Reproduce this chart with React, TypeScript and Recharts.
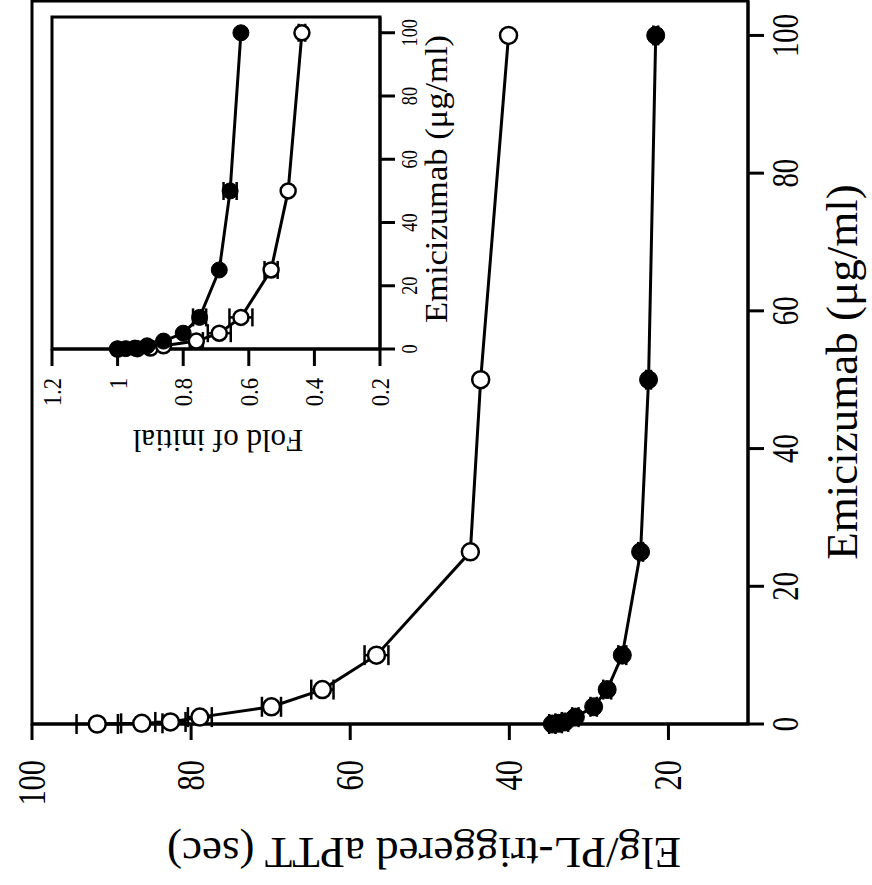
import { LineChart, Line, XAxis, YAxis, ErrorBar, ReferenceArea, Label } from 'recharts'

// doses shared by both panels (µg/ml)
const doses = [0, 0.1, 0.3, 1, 2.5, 5, 10, 25, 50, 100]

// main panel: aPTT (sec)
const apttOpen = [91.8, 86.2, 82.6, 78.9, 69.9, 63.5, 56.7, 44.9, 43.6, 40.1]
const apttOpenErr = [2.6, 2.6, 1.9, 1.5, 1.2, 1.4, 1.5, 0, 0, 0]
const apttClosed = [34.6, 33.8, 33.0, 31.7, 29.4, 27.7, 25.8, 23.5, 22.5, 21.6]
const apttClosedErr = [0.4, 0.4, 0.4, 0.4, 0.4, 0.5, 0.5, 0.3, 0.3, 0.3]

// inset: fold of initial
const foldOpen = [1.0, 0.94, 0.9, 0.86, 0.76, 0.69, 0.624, 0.532, 0.48, 0.438]
const foldOpenErr = [0, 0, 0, 0, 0.02, 0.035, 0.035, 0.02, 0, 0.01]
const foldClosed = [1.0, 0.975, 0.947, 0.91, 0.86, 0.8, 0.75, 0.69, 0.657, 0.624]
const foldClosedErr = [0, 0, 0, 0, 0, 0, 0.02, 0, 0.02, 0]

const doseTicks = [0, 20, 40, 60, 80, 100]
const apttTicks = [20, 40, 60, 80, 100]
const foldTicks = [0.2, 0.4, 0.6, 0.8, 1, 1.2]

const mainRows = doses.map((d, i) => ({
  dose: d,
  open: apttOpen[i],
  openErr: apttOpenErr[i],
  closed: apttClosed[i],
  closedErr: apttClosedErr[i],
}))

const insetRows = doses.map((d, i) => ({
  dose: d,
  open: foldOpen[i],
  openErr: foldOpenErr[i],
  closed: foldClosed[i],
  closedErr: foldClosedErr[i],
}))

const FONT = "'Liberation Serif', 'Times New Roman', serif"
const axisStyle = { stroke: '#000', strokeWidth: 3 }

// tick labels are a bit condensed in the original, so squeeze them horizontally
const MainXTick = ({ x, y, payload }: any) => (
  <text transform={`translate(${x},${y + 34}) scale(0.78,1)`} textAnchor="middle" fontSize={37} fontFamily={FONT} fill="#000">
    {payload.value}
  </text>
)

const MainYTick = ({ x, y, payload }: any) => (
  <text transform={`translate(${x - 20},${y + 13}) scale(0.78,1)`} textAnchor="end" fontSize={39} fontFamily={FONT} fill="#000">
    {payload.value}
  </text>
)

const InsetXTick = ({ x, y, payload }: any) => (
  <text transform={`translate(${x},${y + 22}) scale(0.76,1)`} textAnchor="middle" fontSize={24} fontFamily={FONT} fill="#000">
    {payload.value}
  </text>
)

const InsetYTick = ({ x, y, payload }: any) => (
  <text transform={`translate(${x - 12},${y + 9}) scale(0.87,1)`} textAnchor="end" fontSize={26} fontFamily={FONT} fill="#000">
    {String(payload.value)}
  </text>
)

function MainChart() {
  return (
    <LineChart width={885} height={872} data={mainRows} margin={{ top: 32, right: 1, bottom: 0, left: 0 }}>
      <ReferenceArea x1={0} x2={105} y1={10} y2={100} fill="none" stroke="#000" strokeWidth={3} />
      <XAxis
        dataKey="dose"
        type="number"
        domain={[0, 105]}
        ticks={doseTicks}
        height={124}
        tickSize={16}
        tickMargin={0}
        axisLine={axisStyle}
        tickLine={axisStyle}
        tick={MainXTick}
      >
        <Label
          content={() => (
            <text x={513} y={857} textAnchor="middle" fontSize={45} fontFamily={FONT} fill="#000">
              Emicizumab (μg/ml)
            </text>
          )}
        />
      </XAxis>
      <YAxis
        type="number"
        domain={[10, 100]}
        ticks={apttTicks}
        width={161}
        tickSize={16}
        tickMargin={0}
        axisLine={axisStyle}
        tickLine={axisStyle}
        tick={MainYTick}
      >
        <Label
          content={() => (
            <text x={47} y={424} transform="rotate(-90 47 424)" textAnchor="middle" fontSize={45} fontFamily={FONT} fill="#000">
              Elg/PL-triggered aPTT (sec)
            </text>
          )}
        />
      </YAxis>
      <Line
        dataKey="closed"
        type="linear"
        stroke="#000"
        strokeWidth={3}
        dot={{ r: 9, fill: '#000', stroke: '#000', strokeWidth: 1 }}
        isAnimationActive={false}
      >
        <ErrorBar dataKey="closedErr" width={10} stroke="#000" strokeWidth={2.5} direction="y" />
      </Line>
      <Line
        dataKey="open"
        type="linear"
        stroke="#000"
        strokeWidth={3}
        dot={{ r: 8.5, fill: '#fff', stroke: '#000', strokeWidth: 2.5 }}
        isAnimationActive={false}
      >
        <ErrorBar dataKey="openErr" width={10} stroke="#000" strokeWidth={2.5} direction="y" />
      </Line>
    </LineChart>
  )
}

function InsetChart() {
  return (
    <LineChart width={480} height={480} data={insetRows} margin={{ top: 52, right: 12, bottom: 0, left: 0 }}>
      <ReferenceArea x1={0} x2={105} y1={0.2} y2={1.2} fill="none" stroke="#000" strokeWidth={3} />
      <XAxis
        dataKey="dose"
        type="number"
        domain={[0, 105]}
        ticks={doseTicks}
        height={100}
        tickSize={15}
        tickMargin={0}
        axisLine={axisStyle}
        tickLine={axisStyle}
        tick={InsetXTick}
      >
        <Label
          content={() => (
            <text transform="translate(306,447) scale(1.08,1)" textAnchor="middle" fontSize={32} fontFamily={FONT} fill="#000">
              Emicizumab (μg/ml)
            </text>
          )}
        />
      </XAxis>
      <YAxis
        type="number"
        domain={[0.2, 1.2]}
        ticks={foldTicks}
        width={136}
        tickSize={17}
        tickMargin={0}
        axisLine={axisStyle}
        tickLine={axisStyle}
        tick={InsetYTick}
      >
        <Label
          content={() => (
            <text x={55} y={218} transform="rotate(-90 55 218)" textAnchor="middle" fontSize={31} fontFamily={FONT} fill="#000">
              Fold of initial
            </text>
          )}
        />
      </YAxis>
      <Line
        dataKey="open"
        type="linear"
        stroke="#000"
        strokeWidth={3}
        dot={{ r: 7.5, fill: '#fff', stroke: '#000', strokeWidth: 2.5 }}
        isAnimationActive={false}
      >
        <ErrorBar dataKey="openErr" width={9} stroke="#000" strokeWidth={2.5} direction="y" />
      </Line>
      <Line
        dataKey="closed"
        type="linear"
        stroke="#000"
        strokeWidth={3}
        dot={{ r: 8, fill: '#000', stroke: '#000', strokeWidth: 1 }}
        isAnimationActive={false}
      >
        <ErrorBar dataKey="closedErr" width={9} stroke="#000" strokeWidth={2.5} direction="y" />
      </Line>
    </LineChart>
  )
}

export default function App() {
  return (
    <div style={{ position: 'fixed', left: 0, top: 0, width: 872, height: 885, overflow: 'hidden', background: '#fff' }}>
      {/* the figure is printed turned a quarter turn counter-clockwise */}
      <div
        style={{
          position: 'absolute',
          left: 0,
          top: 0,
          width: 885,
          height: 872,
          transformOrigin: '0 0',
          transform: 'translate(0px, 885px) rotate(-90deg)',
        }}
      >
        <div style={{ position: 'absolute', left: 0, top: 0 }}>
          <MainChart />
        </div>
        <div style={{ position: 'absolute', left: 400, top: 0 }}>
          <InsetChart />
        </div>
      </div>
    </div>
  )
}
